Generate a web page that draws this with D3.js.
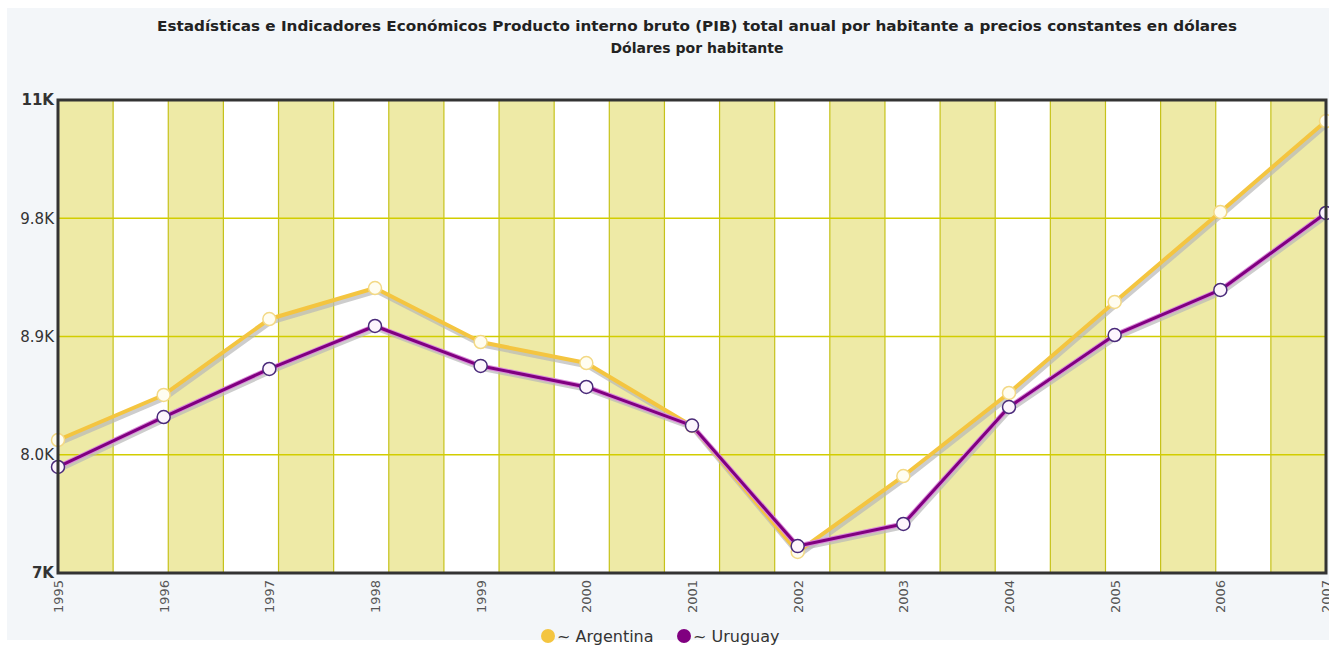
<!DOCTYPE html>
<html>
<head>
<meta charset="utf-8">
<script src="https://cdn.jsdelivr.net/npm/d3@7"></script>
<style>
  html, body { margin: 0; padding: 0; background: #ffffff; }
  svg { display: block; }
</style>
</head>
<body>
<div id="chart"></div>
<script>
// Data
const years = [1995, 1996, 1997, 1998, 1999, 2000, 2001, 2002, 2003, 2004, 2005, 2006, 2007];
const argentina = [8112, 8455, 9033, 9269, 8858, 8698, 8219, 7260, 7838, 8470, 9163, 9848, 10540];
const uruguay = [7907, 8287, 8653, 8980, 8676, 8516, 8222, 7305, 7473, 8363, 8911, 9254, 9840];
const seriesNames = ["~ Argentina", "~ Uruguay"];
const yTicks = [7100, 8000, 8900, 9800, 10700];
const yTickLabels = ["7K", "8.0K", "8.9K", "9.8K", "11K"];
const bandCount = 23;

const titleLines = [
  "Estadísticas e Indicadores Económicos Producto interno bruto (PIB) total anual por habitante a precios constantes en dólares",
  "Dólares por habitante"
];

// Options
const width = 1329;
const height = 646;
const margin = {top: 100, right: 3, bottom: 73, left: 58};
const colors = {argentina: "#f4c540", uruguay: "#800080"};
const font = "'DejaVu Sans', Verdana, sans-serif";

const svg = d3.select("#chart").append("svg")
  .attr("width", width)
  .attr("height", height)
  .attr("viewBox", [0, 0, width, height]);

// Page background
svg.append("rect")
  .attr("x", 7).attr("y", 8)
  .attr("width", width - 7).attr("height", height - 14)
  .attr("fill", "#f3f6f9");

// Scales
const x = d3.scaleLinear()
  .domain(d3.extent(years))
  .range([margin.left, width - margin.right]);
const y = d3.scaleLinear()
  .domain([yTicks[0], yTicks[yTicks.length - 1]])
  .range([height - margin.bottom, margin.top]);
const bands = d3.scaleBand()
  .domain(d3.range(bandCount))
  .range([margin.left, width - margin.right]);

// Alternating background bands
svg.append("g")
  .selectAll("rect")
  .data(d3.range(bandCount))
  .join("rect")
  .attr("x", d => bands(d))
  .attr("y", margin.top)
  .attr("width", bands.bandwidth())
  .attr("height", y.range()[0] - y.range()[1])
  .attr("fill", d => d % 2 === 0 ? "#eeeaa6" : "#ffffff");

// Grid
const grid = svg.append("g")
  .attr("stroke", "#c6c21a")
  .attr("stroke-width", 1.2);
grid.selectAll("line.v")
  .data(d3.range(1, bandCount))
  .join("line")
  .attr("class", "v")
  .attr("x1", d => bands(d)).attr("x2", d => bands(d))
  .attr("y1", margin.top).attr("y2", height - margin.bottom);
grid.selectAll("line.h")
  .data(yTicks.slice(1, -1))
  .join("line")
  .attr("class", "h")
  .attr("stroke", "#d2cd00")
  .attr("stroke-width", 1.5)
  .attr("x1", margin.left).attr("x2", width - margin.right)
  .attr("y1", d => y(d)).attr("y2", d => y(d));

// Lines
const line = d3.line()
  .x((d, i) => x(years[i]))
  .y(d => y(d));

const series = [
  {name: "argentina", values: argentina, color: colors.argentina, width: 4},
  {name: "uruguay", values: uruguay, color: colors.uruguay, width: 3}
];

// Shadows first
series.forEach(s => {
  svg.append("path")
    .datum(s.values)
    .attr("fill", "none")
    .attr("stroke", "#b8b8b8")
    .attr("stroke-opacity", 0.7)
    .attr("stroke-width", s.width + 1)
    .attr("stroke-linejoin", "round")
    .attr("transform", "translate(1.5,3)")
    .attr("d", line);
});

series.forEach(s => {
  if (s.name === "uruguay") {
    svg.append("path")
      .datum(s.values)
      .attr("fill", "none")
      .attr("stroke", "#d98ad9")
      .attr("stroke-width", 5)
      .attr("stroke-linejoin", "round")
      .attr("d", line);
  }
  svg.append("path")
    .datum(s.values)
    .attr("fill", "none")
    .attr("stroke", s.color)
    .attr("stroke-width", s.width)
    .attr("stroke-linejoin", "round")
    .attr("d", line);
});

// Markers
series.forEach(s => {
  svg.append("g")
    .selectAll("circle")
    .data(s.values)
    .join("circle")
    .attr("cx", (d, i) => x(years[i]))
    .attr("cy", d => y(d))
    .attr("r", 6.5)
    .attr("fill", s.name === "uruguay" ? "#fdf5fd" : "#fffdf0")
    .attr("stroke", s.name === "uruguay" ? "#4a2a7a" : "#f3d985")
    .attr("stroke-width", 1.5);
});

// Frame
svg.append("rect")
  .attr("x", margin.left)
  .attr("y", margin.top)
  .attr("width", width - margin.right - margin.left)
  .attr("height", height - margin.bottom - margin.top)
  .attr("fill", "none")
  .attr("stroke", "#333333")
  .attr("stroke-width", 3);

// Y axis
svg.append("g")
  .attr("transform", `translate(${margin.left},0)`)
  .call(d3.axisLeft(y).tickValues(yTicks).tickFormat((d, i) => yTickLabels[i]).tickSize(0).tickPadding(4))
  .call(g => g.select(".domain").remove())
  .call(g => g.selectAll("text")
    .attr("fill", "#333")
    .attr("font-family", font)
    .attr("font-size", 15)
    .attr("font-weight", (d, i) => (i === 0 || i === yTicks.length - 1) ? "bold" : "normal"));

// X axis
svg.append("g")
  .attr("transform", `translate(0,${height - margin.bottom})`)
  .call(d3.axisBottom(x).tickValues(years).tickFormat(d3.format("d")).tickSize(0))
  .call(g => g.select(".domain").remove())
  .call(g => g.selectAll("text")
    .attr("transform", "rotate(-90)")
    .attr("text-anchor", "end")
    .attr("x", -7)
    .attr("y", 0)
    .attr("dy", "0.35em")
    .attr("fill", "#555")
    .attr("font-family", font)
    .attr("font-size", 13));

// Title
const titleX = (margin.left + width - margin.right) / 2 + 5;
svg.append("g")
  .attr("font-family", font)
  .attr("font-weight", "bold")
  .attr("font-size", 14)
  .attr("fill", "#222")
  .attr("text-anchor", "middle")
  .selectAll("text")
  .data(titleLines)
  .join("text")
  .attr("x", titleX)
  .attr("y", (d, i) => 31 + i * 22)
  .attr("textLength", (d, i) => i === 0 ? 1080 : null)
  .attr("lengthAdjust", "spacingAndGlyphs")
  .text(d => d);

// Legend
const legend = svg.append("g")
  .attr("transform", `translate(548,636)`)
  .attr("font-family", font)
  .attr("font-size", 16)
  .attr("fill", "#333");
const legendItem = legend.selectAll("g")
  .data(seriesNames)
  .join("g")
  .attr("transform", (d, i) => `translate(${i * 136},0)`);
legendItem.append("circle")
  .attr("r", 7)
  .attr("fill", (d, i) => i === 0 ? colors.argentina : colors.uruguay);
legendItem.append("text")
  .attr("x", 9)
  .attr("dy", "0.35em")
  .text(d => d);
</script>
</body>
</html>
